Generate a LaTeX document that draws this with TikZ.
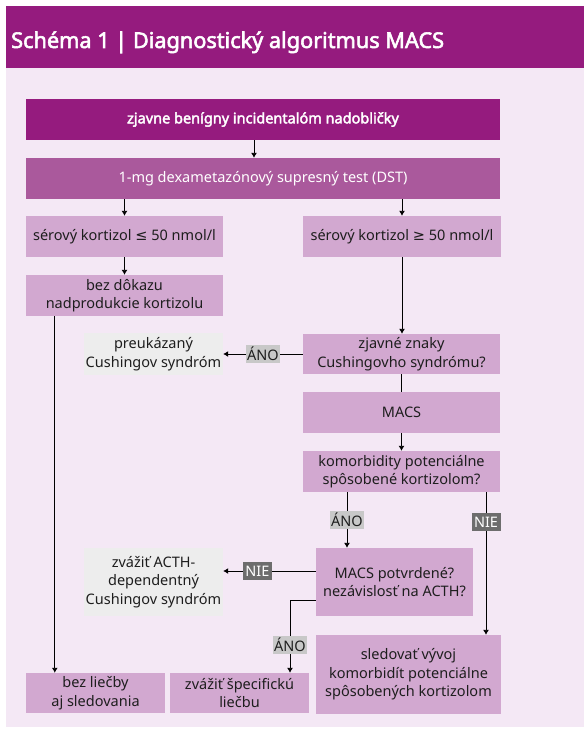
\documentclass[tikz,border=0pt]{standalone}
\usepackage{fontspec}
\setmainfont{Noto Sans}[AutoFakeBold=2.6]
\newfontfamily\symfont{DejaVu Sans}
\usetikzlibrary{arrows.meta}
\definecolor{dpurple}{HTML}{951B7E}
\definecolor{mpurple}{HTML}{AA599C}
\definecolor{lpurple}{HTML}{D2A8D0}
\definecolor{panelbg}{HTML}{F4E8F5}
\definecolor{gbox}{HTML}{EDEDED}
\definecolor{alabel}{HTML}{C8C8C8}
\definecolor{nlabel}{HTML}{6D6D6D}
\definecolor{txt}{HTML}{1E1E1E}
\tikzset{
  box/.style={rectangle, inner sep=0pt, align=center, text=txt,
    font=\fontsize{14.5}{18.5}\selectfont},
  lbox/.style={box, fill=lpurple},
  gbx/.style={box, fill=gbox},
  conn/.style={line width=0.9pt, draw=black},
  arr/.style={conn, -{Latex[length=5pt,width=6pt]}},
  anolab/.style={fill=alabel, text=txt, inner xsep=1.5pt, inner ysep=0pt,
    minimum height=18pt, font=\fontsize{14.5}{18}\selectfont},
  nielab/.style={fill=nlabel, text=white, inner xsep=2.5pt, inner ysep=0pt,
    minimum height=18pt, font=\fontsize{14.5}{18}\selectfont},
}
\begin{document}
\begin{tikzpicture}[x=1pt, y=-1pt]
\useasboundingbox (0,0) rectangle (584,733);
\fill[white] (0,0) rectangle (584,733);
\fill[panelbg] (6,68) rectangle (584,727);
\fill[dpurple] (6,6) rectangle (584,68);
\node[anchor=base west, text=white, inner sep=0pt,
  font=\bfseries\fontsize{21.7}{26}\selectfont] (title) at (11,48)
  {Schéma 1 | Diagnostický algoritmus MACS};

\node[box, fill=dpurple, text=white, font=\bfseries\fontsize{14.5}{18.5}\selectfont,
  minimum width=474pt, minimum height=41pt] (n1) at (263,119.5)
  {zjavne benígny incidentalóm nadobličky};
\node[box, fill=mpurple, text=white, minimum width=474pt, minimum height=41pt]
  (n2) at (263,178.5) {1-mg dexametazónový supresný test (DST)};
\node[lbox, minimum width=197pt, minimum height=41pt] (n3) at (124.5,236.5)
  {sérový kortizol {\symfont ≤} 50 nmol/l};
\node[lbox, minimum width=198pt, minimum height=41pt] (n4) at (402,236.5)
  {sérový kortizol {\symfont ≥} 50 nmol/l};
\node[lbox, minimum width=197pt, minimum height=41pt] (n5) at (124.5,295.5)
  {bez dôkazu\\nadprodukcie kortizolu};
\node[lbox, minimum width=197pt, minimum height=40pt] (n6) at (401.5,354)
  {zjavné znaky\\Cushingovho syndrómu?};
\node[gbx, minimum width=139pt, minimum height=42pt] (g1) at (153.5,354)
  {preukázaný\\Cushingov syndróm};
\node[lbox, minimum width=197pt, minimum height=41pt] (n7) at (401.5,412.5)
  {MACS};
\node[lbox, minimum width=197pt, minimum height=41pt] (n8) at (401.5,471.5)
  {komorbidity potenciálne\\spôsobené kortizolom?};
\node[lbox, minimum width=157pt, minimum height=68pt] (n9) at (394.5,582)
  {MACS potvrdené?\\nezávislosť na ACTH?};
\node[gbx, minimum width=139pt, minimum height=68pt] (g2) at (153.5,582)
  {zvážiť ACTH-\\dependentný\\Cushingov syndróm};
\node[lbox, minimum width=185pt, minimum height=79pt] (n10) at (408.5,674.5)
  {sledovať vývoj\\komorbidít potenciálne\\spôsobených kortizolom};
\node[lbox, minimum width=139pt, minimum height=40pt] (n11) at (95.5,693)
  {bez liečby\\aj sledovania};
\node[lbox, minimum width=139pt, minimum height=40pt] (n12) at (239.5,693)
  {zvážiť špecifickú\\liečbu};

\draw[arr] ([xshift=-9pt]n1.south) -- ([xshift=-9pt]n1.south |- n2.north);
\draw[arr] (n3.north |- n2.south) -- (n3.north);
\draw[arr] (n4.north |- n2.south) -- (n4.north);
\draw[arr] (n3.south) -- (n5.north);
\draw[arr] ([xshift=29pt]n5.south west) -- ([xshift=29pt]n11.north west);
\draw[arr] (n4.south) -- (n4.south |- n6.north);
\draw[arr] (n6.west) -- node[anolab]{ÁNO} (g1.east);
\draw[conn] (n6.south) -- (n7.north);
\draw[arr] (n7.south) -- (n8.north);
\draw[arr] ([xshift=-54.5pt]n8.south) -- node[anolab]{ÁNO} ([xshift=-54.5pt]n8.south |- n9.north);
\draw[arr] ([xshift=84.5pt]n8.south) -- node[nielab, pos=0.21]{NIE} ([xshift=84.5pt]n8.south |- n10.north);
\draw[arr] ([yshift=11pt]n9.west) -- node[nielab, pos=0.63]{NIE} ([yshift=11pt]n9.west -| g2.east);
\draw[arr] ([yshift=-18pt]n9.west) -| node[anolab, pos=0.81]{ÁNO} ([xshift=50.5pt]n12.north);
\end{tikzpicture}
\end{document}
